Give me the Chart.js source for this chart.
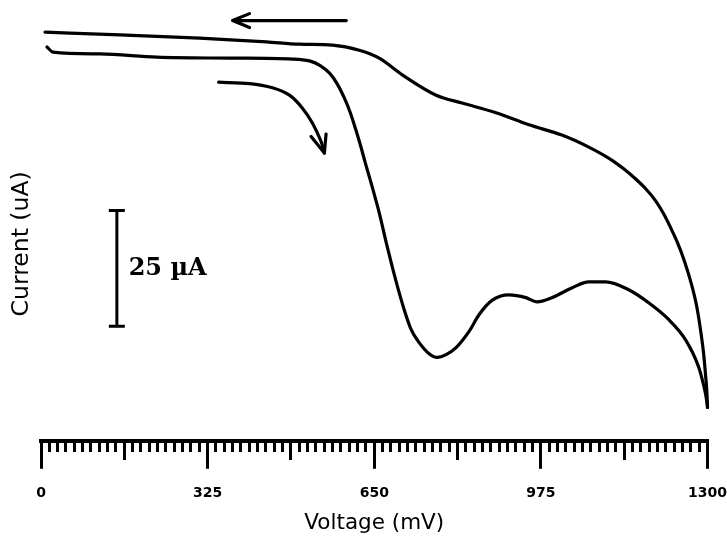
<!DOCTYPE html>
<html>
<head>
<meta charset="utf-8">
<script src="https://cdn.jsdelivr.net/npm/chart.js@4.4.1/dist/chart.umd.min.js"></script>
<style>
  html, body { margin: 0; padding: 0; background: #ffffff; }
  #wrap { width: 727px; height: 537px; }
</style>
</head>
<body>
<div id="wrap"><canvas id="c" width="727" height="537"></canvas></div>
<script>
// ---- Data (voltage in mV, current in µA) ----
const forwardVoltage = [11.7, 23.4, 114.8, 225.7, 367.8, 490.4, 523.5, 543.0, 562.4, 578.0, 591.6, 603.3, 613.0, 622.8, 632.5, 644.2, 659.7, 675.3, 692.8, 708.4, 722.0, 737.6, 757.0, 772.6, 790.1, 809.6, 834.9, 854.3, 879.6, 912.7, 945.8, 967.2, 996.4, 1035.3, 1068.4, 1101.5, 1146.3, 1185.2, 1224.1, 1257.2, 1282.5, 1292.2, 1298.1, 1300];
const forwardCurrent = [-1.5, -2.6, -3.0, -3.7, -3.9, -4.1, -4.5, -5.4, -7.1, -9.5, -12.5, -15.7, -19.0, -22.6, -26.5, -31.0, -37.3, -44.6, -52.2, -58.2, -62.5, -65.3, -67.7, -68.5, -67.9, -66.4, -62.9, -59.3, -56.2, -55.0, -55.6, -56.5, -55.6, -53.5, -52.2, -52.2, -53.9, -56.7, -60.3, -64.7, -70.5, -74.4, -77.6, -79.3];

const reverseVoltage = [1300, 1299.0, 1296.1, 1292.2, 1286.3, 1278.6, 1268.9, 1255.2, 1241.6, 1228.0, 1214.4, 1198.8, 1179.4, 1159.9, 1136.5, 1113.2, 1068.4, 1015.9, 951.6, 887.4, 821.3, 770.7, 704.5, 659.7, 620.8, 568.3, 504.0, 439.8, 309.4, 153.7, 7.8];
const reverseCurrent = [-79.3, -76.5, -72.2, -67.5, -62.5, -57.3, -52.8, -47.8, -43.8, -40.5, -37.5, -34.7, -32.1, -30.0, -27.8, -25.9, -23.1, -20.5, -18.3, -15.7, -13.6, -11.9, -7.5, -3.9, -2.2, -1.1, -0.9, -0.4, 0.4, 1.1, 1.7];

// direction arrows (drawn in data units)
const reverseArrowVoltage = [595.5, 373.7, 406.7, 373.7, 406.7];
const reverseArrowCurrent = [4.2, 4.2, 5.7, 4.2, 2.7];
const startArrowVoltage = [346.4, 406.7, 451.5, 484.6, 509.9, 529.3, 546.3, 552.7];
const startArrowCurrent = [-9.1, -9.4, -10.3, -11.9, -14.7, -17.9, -21.9, -24.4];
const startHeadVoltage = [526.8, 552.7, 556.0];
const startHeadCurrent = [-20.8, -24.4, -20.3];

// scale bar
const scaleBarVoltage = [132.3, 163.5, 148, 148, 132.3, 163.5];
const scaleBarCurrent = [-36.8, -36.8, -36.8, -61.8, -61.8, -61.8];
const scaleBarLabel = '25 µA';
const scaleBarLabelPos = [171, -49.3];

// axis ticks
const xMin = 0, xMax = 1300;
const majorStep = 325, mediumStep = 162.5, minorStep = 16.25;
const yMin = -86.5, yMax = -1.5;

const zip = (xs, ys) => xs.map((x, i) => ({x: x, y: ys[i]}));

const lineStyle = {
  showLine: true, borderColor: '#000', backgroundColor: '#000',
  borderWidth: 3.2, pointRadius: 0, pointHoverRadius: 0, fill: false,
  borderCapStyle: 'round', borderJoinStyle: 'round', clip: false
};

const scaleLabelPlugin = {
  id: 'scaleLabel',
  afterDatasetsDraw(chart) {
    const {ctx, scales} = chart;
    ctx.save();
    ctx.fillStyle = '#000';
    ctx.font = 'bold 24px "DejaVu Serif"';
    ctx.textAlign = 'left';
    ctx.textBaseline = 'middle';
    ctx.fillText(scaleBarLabel, scales.x.getPixelForValue(scaleBarLabelPos[0]), scales.y.getPixelForValue(scaleBarLabelPos[1]));
    ctx.restore();
  }
};

new Chart(document.getElementById('c'), {
  type: 'scatter',
  data: {
    datasets: [
      Object.assign({data: zip(forwardVoltage, forwardCurrent), cubicInterpolationMode: 'monotone'}, lineStyle),
      Object.assign({data: zip(reverseVoltage, reverseCurrent), cubicInterpolationMode: 'monotone'}, lineStyle),
      Object.assign({data: zip(reverseArrowVoltage, reverseArrowCurrent), tension: 0}, lineStyle),
      Object.assign({data: zip(startArrowVoltage, startArrowCurrent), tension: 0.3}, lineStyle),
      Object.assign({data: zip(startHeadVoltage, startHeadCurrent), tension: 0}, lineStyle),
      Object.assign({data: zip(scaleBarVoltage, scaleBarCurrent), tension: 0}, lineStyle, {borderWidth: 3, borderCapStyle: 'butt', borderJoinStyle: 'miter'})
    ]
  },
  options: {
    responsive: false,
    devicePixelRatio: 1,
    animation: false,
    events: [],
    layout: { padding: { top: 47, left: 5, right: 18, bottom: 0 } },
    plugins: { legend: { display: false }, tooltip: { enabled: false } },
    scales: {
      x: {
        type: 'linear', position: 'bottom', min: xMin, max: xMax,
        border: { display: true, color: '#000', width: 4 },
        grid: {
          display: true, drawOnChartArea: false, drawTicks: true,
          tickLength: 28, tickWidth: 3, tickColor: '#000', lineWidth: 3, color: '#000',
          tickBorderDash: (c) => {
            const v = c.tick ? c.tick.value : 0;
            if (v % majorStep === 0) return [];
            if (v % mediumStep === 0) return [17, 100];
            return [9, 100];
          }
        },
        ticks: {
          stepSize: minorStep, autoSkip: false, maxTicksLimit: 1000, maxRotation: 0,
          padding: 0, color: '#000',
          font: { family: '"DejaVu Sans"', size: 14, weight: 'bold', lineHeight: 50 / 14 },
          callback: (v) => (v % majorStep === 0 ? String(v) : '')
        },
        title: {
          display: true, text: 'Voltage (mV)', color: '#000',
          font: { family: '"DejaVu Sans"', size: 21.5, weight: 'normal', lineHeight: 8.4 / 21.5 },
          padding: { top: 0, bottom: 9.8 }
        }
      },
      y: {
        type: 'linear', position: 'left', min: yMin, max: yMax,
        border: { display: false },
        grid: { display: false, drawTicks: false },
        ticks: { display: false },
        title: {
          display: true, text: 'Current (uA)', color: '#000',
          font: { family: '"DejaVu Sans"', size: 23.5, weight: 'normal' },
          padding: { top: 2.9, bottom: 4.9 }
        }
      }
    }
  },
  plugins: [scaleLabelPlugin]
});
</script>
</body>
</html>
